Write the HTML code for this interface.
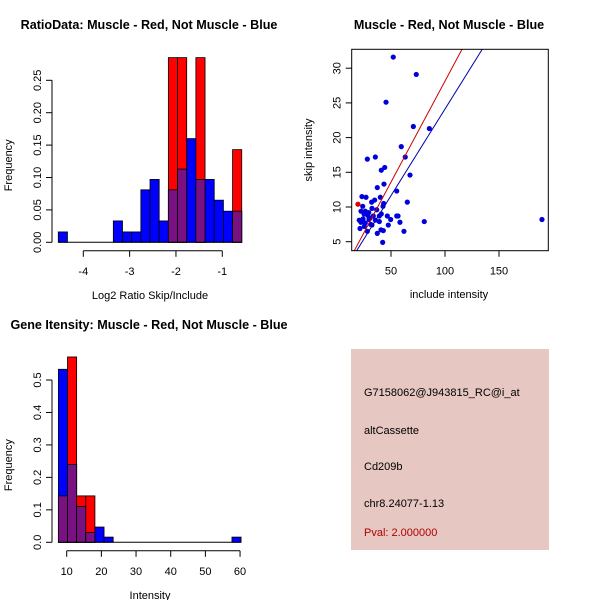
<!DOCTYPE html>
<html><head><meta charset="utf-8"><style>
html,body{margin:0;padding:0;background:#fff;}
svg{display:block;font-family:"Liberation Sans",Arial,sans-serif;}
</style></head><body>
<svg id="c" width="600" height="600" viewBox="0 0 600 600">
<rect width="600" height="600" fill="#fff"/>
<text x="149" y="29" font-size="12.6" font-weight="bold" text-anchor="middle">RatioData: Muscle - Red, Not Muscle - Blue</text>
<text x="449" y="29" font-size="12.6" font-weight="bold" text-anchor="middle">Muscle - Red, Not Muscle - Blue</text>
<text x="149" y="329" font-size="12.6" font-weight="bold" text-anchor="middle">Gene Itensity: Muscle - Red, Not Muscle - Blue</text>
<g id="g1"></g>
<g id="g2"></g>
<g id="g3"></g>
<g>
<rect x="351" y="349" width="198" height="201" fill="#e6c7c1"/>
<text x="364" y="396" font-size="11">G7158062@J943815_RC@i_at</text>
<text x="364" y="434" font-size="11">altCassette</text>
<text x="364" y="470" font-size="11">Cd209b</text>
<text x="364" y="507" font-size="11">chr8.24077-1.13</text>
<text x="364" y="536" font-size="11" fill="#b00000">Pval: 2.000000</text>
</g>
</svg>
<script>
// Ratio histogram data
const ratioStart = -4.54, ratioBin = 0.198;
const ratioBlue = [0.016,0,0,0,0,0,0.033,0.016,0.016,0.081,0.097,0.033,0.081,0.113,0.16,0.097,0.097,0.065,0.048,0.048];
const ratioRed  = [0,0,0,0,0,0,0,0,0,0,0,0,0.285,0.285,0,0.285,0,0,0,0.143];
const ratioXTicks = [-4,-3,-2,-1];
const ratioYTicks = [0,0.05,0.10,0.15,0.20,0.25];
const ratioYLabels = ["0.00","0.05","0.10","0.15","0.20","0.25"];
// Intensity histogram data
const intStart = 7.6, intBin = 2.635;
const intBlue = [0.533,0.24,0.11,0.03,0.047,0.016,0,0,0,0,0,0,0,0,0,0,0,0,0,0.016];
const intRed  = [0.143,0.571,0.143,0.143,0,0,0,0,0,0,0,0,0,0,0,0,0,0,0,0];
const intXTicks = [10,20,30,40,50,60];
const intYTicks = [0,0.1,0.2,0.3,0.4,0.5];
const intYLabels = ["0.0","0.1","0.2","0.3","0.4","0.5"];
// Scatter data
const scX = [52.1,73.4,45.4,70.7,85.5,59.5,63.2,28.1,35.5,44.2,41.0,67.6,43.5,37.3,55.3,65.1,40.1,23.1,26.9,34.9,43.2,32.1,42.6,23.8,22.2,26.2,29.4,36.8,32.4,41.0,46.6,55.3,56.5,39.2,25.0,28.4,22.2,29.6,35.5,26.2,31.2,39.2,49.7,58.3,47.5,21.3,25.3,32.4,42.9,40.7,37.3,28.1,62.0,80.8,189.8,42.3,30.6,24.1,33.6,20.6];
const scY = [31.6,29.1,25.1,21.6,21.3,18.7,17.2,16.9,17.2,15.7,15.3,14.6,13.3,12.8,12.3,10.7,11.4,11.5,11.4,11.0,10.5,10.7,10.1,10.1,9.4,9.4,9.2,9.6,9.8,9.0,8.7,8.7,8.7,8.7,9.0,8.8,7.8,8.2,8.1,7.7,7.5,7.9,8.2,7.8,7.4,6.9,7.2,7.4,6.6,6.7,6.2,6.5,6.5,7.9,8.2,4.9,8.4,8.3,8.7,8.1];
const scRedX = [19.4];
const scRedY = [10.4];
const fitRed = [-0.96,0.291];   // intercept, slope
const fitBlue = [-0.84,0.2496];
const scXTicks = [50,100,150];
const scYTicks = [5,10,15,20,25,30];

const NS="http://www.w3.org/2000/svg";
function mk(parent,tag,attrs){const e=document.createElementNS(NS,tag);for(const k in attrs)e.setAttribute(k,attrs[k]);parent.appendChild(e);return e;}

function hist(g,start,bin,blue,red,xs,ys,xTicks,yTicks,yLabels,xlab,prefix){
  for(let i=0;i<blue.length;i++){
    const x0=xs(start+i*bin),x1=xs(start+(i+1)*bin);
    const b=blue[i],r=red[i],m=Math.min(b,r);
    if(b>0){const e=mk(g,'rect',{x:x0,y:ys(b),width:x1-x0,height:ys(0)-ys(b),fill:'#0000ff',stroke:'#000','stroke-width':0.8});
      
      }
    if(r>0){const e=mk(g,'rect',{x:x0,y:ys(r),width:x1-x0,height:ys(0)-ys(r),fill:'#ff0000',stroke:'#000','stroke-width':0.8});
      
      }
    if(m>0){const e=mk(g,'rect',{x:x0,y:ys(m),width:x1-x0,height:ys(0)-ys(m),fill:'#7a1183',stroke:'#000','stroke-width':0.8});
      
      }
  }
  mk(g,'line',{x1:xs(start),x2:xs(start+blue.length*bin),y1:ys(0),y2:ys(0),stroke:'#000'});
  const ax=52;
  mk(g,'line',{x1:ax,x2:ax,y1:ys(yTicks[0]),y2:ys(yTicks[yTicks.length-1]),stroke:'#000'});
  yTicks.forEach((t,i)=>{mk(g,'line',{x1:ax-6,x2:ax,y1:ys(t),y2:ys(t),stroke:'#000'});
    const tx=mk(g,'text',{x:0,y:0,'font-size':11,'text-anchor':'middle',transform:`translate(${ax-11},${ys(t)}) rotate(-90)`});tx.textContent=yLabels[i];
    
    });
  const ay=ys(0)+8.5;
  mk(g,'line',{x1:xs(xTicks[0]),x2:xs(xTicks[xTicks.length-1]),y1:ay,y2:ay,stroke:'#000'});
  xTicks.forEach(t=>{mk(g,'line',{x1:xs(t),x2:xs(t),y1:ay,y2:ay+6,stroke:'#000'});
    const tx=mk(g,'text',{x:xs(t),y:ay+24,'font-size':11,'text-anchor':'middle'});tx.textContent=t;
    
    });
  const xl=mk(g,'text',{x:150,y:ay+48,'font-size':11,'text-anchor':'middle'});xl.textContent=xlab;
  
  
  const yl=mk(g,'text',{x:0,y:0,'font-size':11,'text-anchor':'middle',transform:`translate(12,${(ys(0)+ys(yTicks[yTicks.length-1]))/2+4}) rotate(-90)`});yl.textContent='Frequency';
  
  
}
const g1=document.getElementById('g1');
hist(g1,ratioStart,ratioBin,ratioBlue,ratioRed,v=>83.3+(v+4)*46.33,v=>242.3-v*648,ratioXTicks,ratioYTicks,ratioYLabels,'Log2 Ratio Skip/Include','ratio');
const g3=document.getElementById('g3');
hist(g3,intStart,intBin,intBlue,intRed,v=>66.7+(v-10)*3.467,v=>542.3-v*324.6,intXTicks,intYTicks,intYLabels,'Intensity','intensity');

const g2=document.getElementById('g2');
const sx=v=>391+(v-50)*1.08, sy=v=>241.7-(v-5)*6.94;
const L=351.7,R=548.3,T=49.3,B=250.7;
mk(g2,'clipPath',{id:'clp'});
mk(document.getElementById('clp'),'rect',{x:L,y:T,width:R-L,height:B-T});
scX.forEach((x,i)=>{const c=mk(g2,'circle',{cx:sx(x),cy:sy(scY[i]),r:2.6,fill:'#0000dd'});
  
  });
scRedX.forEach((x,i)=>{const c=mk(g2,'circle',{cx:sx(x),cy:sy(scRedY[i]),r:2.6,fill:'#dd0000'});
  
  });
[[fitRed,'#cc0000','fit-line-red'],[fitBlue,'#0000aa','fit-line-blue']].forEach(([f,col,nm])=>{
  const x0=0,x1=250;
  const l=mk(g2,'line',{x1:sx(x0),y1:sy(f[0]+f[1]*x0),x2:sx(x1),y2:sy(f[0]+f[1]*x1),stroke:col,'stroke-width':1,'clip-path':'url(#clp)'});
  
  });
mk(g2,'rect',{x:L,y:T,width:R-L,height:B-T,fill:'none',stroke:'#000'});
scXTicks.forEach(t=>{mk(g2,'line',{x1:sx(t),x2:sx(t),y1:B,y2:B+6,stroke:'#000'});
  const tx=mk(g2,'text',{x:sx(t),y:B+24,'font-size':11,'text-anchor':'middle'});tx.textContent=t;
  
  });
scYTicks.forEach(t=>{mk(g2,'line',{x1:L-6,x2:L,y1:sy(t),y2:sy(t),stroke:'#000'});
  const tx=mk(g2,'text',{x:0,y:0,'font-size':11,'text-anchor':'middle',transform:`translate(${L-11},${sy(t)}) rotate(-90)`});tx.textContent=t;
  
  });
const sxl=mk(g2,'text',{x:449,y:298,'font-size':11,'text-anchor':'middle'});sxl.textContent='include intensity';


const syl=mk(g2,'text',{x:0,y:0,'font-size':11,'text-anchor':'middle',transform:'translate(312,150) rotate(-90)'});syl.textContent='skip intensity';


</script>
</body></html>
